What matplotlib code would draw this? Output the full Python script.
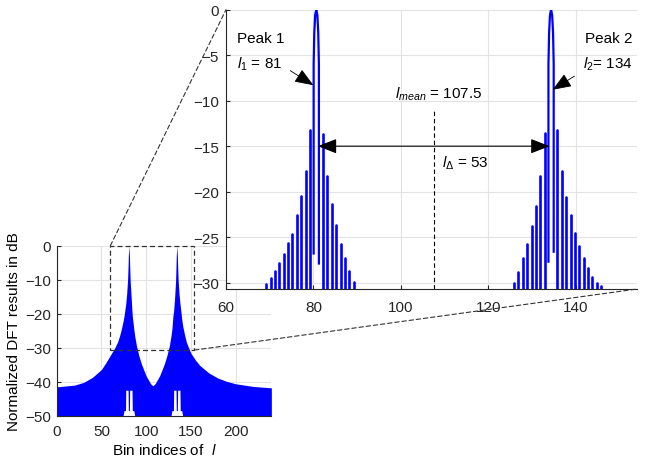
import matplotlib.pyplot as plt
from matplotlib.patches import Rectangle, ConnectionPatch

plt.rcParams['font.family'] = 'Liberation Sans'
plt.rcParams['font.size'] = 11
plt.rcParams['mathtext.fontset'] = 'custom'
plt.rcParams['mathtext.rm'] = 'Liberation Sans'
plt.rcParams['mathtext.it'] = 'Liberation Sans:italic'

# detected peak bins
peak_bins = [81, 134]

# full spectrum: upper envelope and lower edge (dB) over bin index
ov_bin = [0, 20, 30, 40, 50, 55, 60, 65, 68.2, 70.2, 72.2, 74.2, 75.2, 76.9, 77.2,
          78.2, 79.2, 79.8, 80.1, 80.7, 81.3, 81.6, 82.2, 83.2, 84.2, 84.5, 86.2,
          87.2, 89.2, 92, 95, 100, 105, 107.5, 110, 115, 120, 123, 125.9, 127.8,
          128.8, 129.9, 130.5, 130.8, 131.9, 132.9, 133.4, 133.7, 134.3, 134.9,
          135.2, 135.8, 136.8, 137.8, 138.1, 139.8, 140.8, 142.8, 144.8, 146.8,
          150, 155, 160, 170, 180, 190, 200, 220, 240]
ov_top = [-41.5, -41.0, -40.2, -38.7, -36.4, -34.4, -32.2, -30.0, -28.2, -26.6,
          -24.6, -22.2, -20.8, -17.6, -17.0, -14.2, -10.2, -6.0, -3.0, 0.0, -3.0,
          -6.0, -10.5, -15.0, -19.5, -20.6, -24.5, -26.5, -29.5, -32.5, -35.0,
          -38.3, -40.6, -41.2, -40.6, -38.3, -35.0, -32.5, -29.5, -26.5, -24.5,
          -20.8, -19.6, -19.0, -15.0, -10.5, -6.0, -3.0, 0.0, -3.0, -6.0, -10.2,
          -14.2, -17.0, -17.6, -21.6, -23.5, -26.0, -28.2, -29.6, -31.6, -33.6,
          -35.2, -37.4, -38.9, -39.9, -40.6, -41.4, -41.8]
ov_low = [-50, -50, -50, -50, -50, -50, -50, -50, -50, -50,
          -50, -50, -48.5, -48.5, -42.5, -42.5, -42.5, -42.5, -48.5, -48.5, -48.5,
          -42.5, -42.5, -42.5, -42.5, -48.5, -48.5, -50, -50, -50, -50,
          -50, -50, -50, -50, -50, -50, -50, -50, -50, -48.5,
          -48.5, -48.5, -42.5, -42.5, -42.5, -42.5, -48.5, -48.5, -48.5, -42.5, -42.5,
          -42.5, -42.5, -48.5, -48.5, -50, -50, -50, -50, -50, -50,
          -50, -50, -50, -50, -50, -50, -50]

# sidelobe maxima around each tone (bin, dB)
side1_bin = [68.2, 69.2, 70.2, 71.2, 72.2, 73.2, 74.2, 75.2, 76.2, 77.2, 78.2, 79.2,
             82.2, 83.2, 84.2, 85.2, 86.2, 87.2, 88.2, 89.2]
side1_db = [-30.9, -30.2, -29.5, -28.7, -27.8, -26.9, -25.6, -24.6, -22.6, -20.5,
            -17.7, -13.2, -13.7, -18.3, -21.4, -23.7, -25.7, -27.3, -28.7, -29.9]
side2_bin = [125.9, 126.9, 127.9, 128.9, 129.9, 130.9, 131.9, 132.9,
             135.8, 136.8, 137.8, 138.8, 139.8, 140.8, 141.8, 142.8, 143.8, 144.8,
             145.8, 146.8]
side2_db = [-30.0, -28.8, -27.3, -25.8, -23.8, -21.6, -18.3, -13.6,
            -13.2, -17.7, -20.6, -22.6, -24.5, -26.0, -27.3, -28.4, -29.4, -30.0,
            -30.4, -30.8]

# main lobes
main1_bin = [80.05, 80.05, 80.2, 80.4, 80.65, 80.9, 81.1, 81.25, 81.25]
main1_db = [-26.8, -6.0, -2.5, -0.6, 0.0, -0.6, -2.5, -6.0, -27.9]
main2_bin = [133.75, 133.75, 133.9, 134.1, 134.35, 134.6, 134.8, 134.95, 134.95]
main2_db = [-27.7, -6.0, -2.5, -0.6, 0.0, -0.6, -2.5, -6.0, -26.6]

l_mean = (peak_bins[0] + peak_bins[1]) / 2
l_delta = peak_bins[1] - peak_bins[0]

zx = (60, 154)
zy = (-30.7, 0)
axis_col = '#262626'
grid_col = '#e3e3e3'


def style(a):
    a.spines['top'].set_visible(False)
    a.spines['right'].set_visible(False)
    for s in ('left', 'bottom'):
        a.spines[s].set_color(axis_col)
        a.spines[s].set_linewidth(0.8)
    a.tick_params(direction='in', length=3, color=axis_col, labelcolor=axis_col)
    a.grid(True, color=grid_col, lw=0.8)
    a.set_axisbelow(True)


fig = plt.figure(figsize=(6.49, 4.64), dpi=100)
ax = fig.add_axes([0.0874, 0.1019, 0.3307, 0.3664])
axz = fig.add_axes([0.3482, 0.375, 0.6333, 0.6019])

# overview
ax.fill_between(ov_bin, ov_low, ov_top, color='blue', lw=0)
ax.set_xlim(0, 240)
ax.set_ylim(-50, 0)
ax.set_xticks([0, 50, 100, 150, 200])
ax.set_yticks([-50, -40, -30, -20, -10, 0])
style(ax)
ax.tick_params(axis='x', pad=6)
ax.tick_params(axis='y', pad=4)
ax.set_ylabel('Normalized DFT results in dB', labelpad=3)
ax.set_xlabel(r'Bin indices of  $l$', labelpad=3)

ax.add_patch(Rectangle((zx[0], zy[0]), zx[1] - zx[0], zy[1] - zy[0], fill=False,
                       ls=(0, (4, 2.5)), lw=0.9, ec='#333333', clip_on=False, zorder=5))
for corner in [(zx[0], zy[1]), (zx[1], zy[0])]:
    con = ConnectionPatch(xyA=corner, coordsA=ax.transData, xyB=corner,
                          coordsB=axz.transData, ls=(0, (4, 2.5)), lw=0.8,
                          color='#333333')
    fig.add_artist(con)

# zoomed view
for sb, sd in [(side1_bin, side1_db), (side2_bin, side2_db)]:
    lc = axz.vlines(sb, zy[0] - 1, sd, color='blue', lw=1.9)
    lc.set_capstyle('round')
axz.plot(main1_bin, main1_db, color='blue', lw=1.6)
axz.plot(main2_bin, main2_db, color='blue', lw=1.6)
axz.set_xlim(*zx)
axz.set_ylim(*zy)
axz.set_xticks([60, 80, 100, 120, 140])
axz.set_yticks([-30, -25, -20, -15, -10, -5, 0])
style(axz)
axz.tick_params(axis='x', pad=8)
axz.tick_params(axis='y', pad=5)

arrow_kw = dict(arrowstyle='-|>,head_length=0.9,head_width=0.35', color='black',
                lw=0.6, shrinkA=0, shrinkB=0, mutation_scale=13)
axz.text(62.5, -3.6, 'Peak 1', va='baseline')
axz.text(62.5, -6.4, rf'$l_1$ = {peak_bins[0]}', va='baseline')
axz.annotate('', xy=(80.0, -8.3), xytext=(74.7, -6.7), arrowprops=arrow_kw)

axz.text(153, -3.6, 'Peak 2', va='baseline', ha='right')
axz.text(153, -6.4, rf'$l_2$= {peak_bins[1]}', va='baseline', ha='right')
axz.annotate('', xy=(134.7, -8.8), xytext=(139.7, -7.3), arrowprops=arrow_kw)

axz.plot([l_mean, l_mean], [zy[0], -11.1], ls=(0, (4, 2.5)), color='black', lw=0.8)
axz.text(98.7, -9.7, rf'$l_{{mean}}$ = {l_mean}', va='baseline')

axz.annotate('', xy=(peak_bins[0], -15), xytext=(peak_bins[1], -15),
             arrowprops=dict(arrowstyle='<|-|>,head_length=0.9,head_width=0.35',
                             color='black', lw=0.8, shrinkA=0, shrinkB=0,
                             mutation_scale=13))
axz.text(109.4, -17.3, rf'$l_{{\Delta}}$ = {l_delta}', va='baseline')

fig.savefig('out.png', dpi=100)
